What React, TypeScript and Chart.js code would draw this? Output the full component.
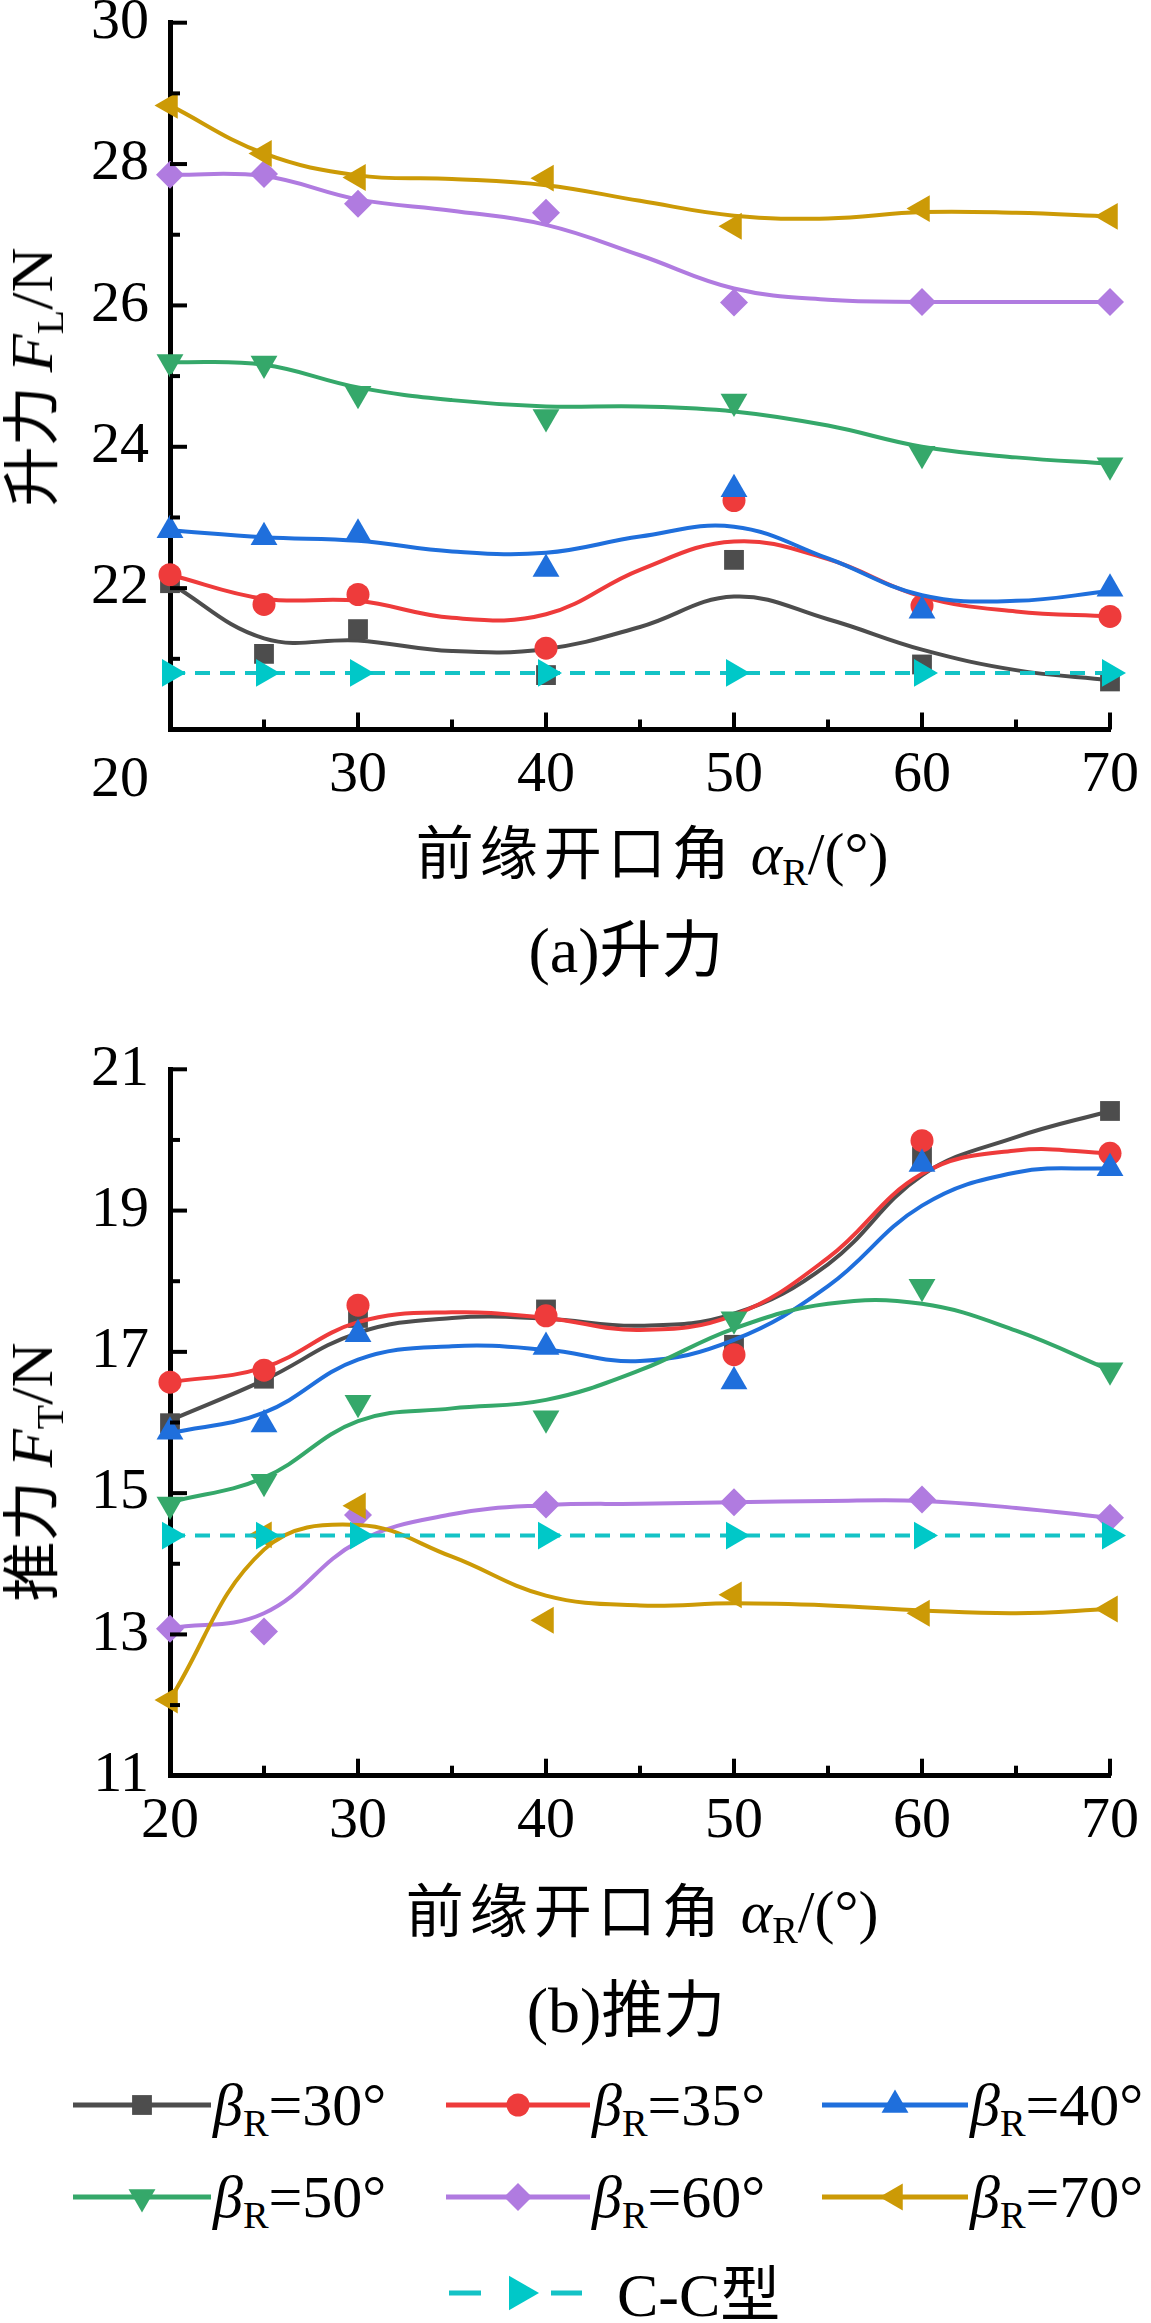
import { useEffect, useRef } from "react";
import { Chart, registerables } from "chart.js";

Chart.register(...registerables);

// leading-edge opening angle alpha_R (deg) where the runs were made
const ALPHA = [20, 25, 30, 40, 50, 60, 70];
const ALPHA_FIT = [20, 25, 30, 35, 40, 45, 50, 55, 60, 65, 70];

// (a) lift F_L (N)
const LIFT_B30 = [22.07, 21.07, 21.42, 20.77, 22.4, 20.92, 20.68];
const LIFT_B35 = [22.19, 21.77, 21.91, 21.15, 23.24, 21.75, 21.6];
const LIFT_B40 = [22.82, 22.72, 22.77, 22.27, 23.4, 21.68, 21.99];
const LIFT_B50 = [25.2, 25.18, 24.75, 24.42, 24.64, 23.9, 23.74];
const LIFT_B60 = [27.85, 27.86, 27.44, 27.31, 26.04, 26.05, 26.05];
const LIFT_B70 = [28.83, 28.15, 27.81, 27.8, 27.12, 27.37, 27.26];
const LIFT_CC = [20.8, 20.8, 20.8, 20.8, 20.8, 20.8, 20.8];

const LIFT_FIT_B30 = [22.07, 21.29, 21.26, 21.11, 21.14, 21.45, 21.88, 21.56, 21.13, 20.84, 20.7];
const LIFT_FIT_B35 = [22.19, 21.85, 21.82, 21.58, 21.63, 22.26, 22.66, 22.41, 21.88, 21.67, 21.6];
const LIFT_FIT_B40 = [22.82, 22.72, 22.67, 22.52, 22.5, 22.73, 22.87, 22.42, 21.9, 21.82, 21.96];
const LIFT_FIT_B50 = [25.2, 25.16, 24.84, 24.66, 24.57, 24.57, 24.5, 24.3, 24.0, 23.85, 23.76];
const LIFT_FIT_B60 = [27.85, 27.83, 27.5, 27.34, 27.14, 26.71, 26.24, 26.08, 26.05, 26.05, 26.05];
const LIFT_FIT_B70 = [28.83, 28.15, 27.84, 27.79, 27.7, 27.48, 27.27, 27.23, 27.32, 27.31, 27.26];

// (b) thrust F_T (N)
const THRUST_B30 = [15.99, 16.62, 17.48, 17.6, 17.1, 19.76, 20.41];
const THRUST_B35 = [16.57, 16.74, 17.66, 17.51, 16.96, 19.99, 19.81];
const THRUST_B40 = [15.87, 15.97, 17.25, 17.07, 16.58, 19.66, 19.6];
const THRUST_B50 = [14.84, 15.16, 16.28, 16.06, 17.46, 17.92, 16.74];
const THRUST_B60 = [13.08, 13.04, 14.69, 14.84, 14.87, 14.91, 14.65];
const THRUST_B70 = [12.07, 14.41, 14.82, 13.2, 13.56, 13.3, 13.36];
const THRUST_CC = [14.4, 14.4, 14.4, 14.4, 14.4, 14.4, 14.4];

const THRUST_FIT_B30 = [16.03, 16.6, 17.27, 17.48, 17.47, 17.37, 17.54, 18.24, 19.5, 20.04, 20.41];
const THRUST_FIT_B35 = [16.57, 16.78, 17.42, 17.56, 17.48, 17.31, 17.52, 18.33, 19.52, 19.85, 19.81];
const THRUST_FIT_B40 = [15.85, 16.14, 16.89, 17.08, 17.03, 16.87, 17.17, 17.93, 19.07, 19.54, 19.6];
const THRUST_FIT_B50 = [14.87, 15.22, 16.02, 16.2, 16.32, 16.74, 17.33, 17.68, 17.68, 17.3, 16.74];
const THRUST_FIT_B60 = [13.09, 13.3, 14.31, 14.7, 14.83, 14.85, 14.87, 14.89, 14.89, 14.79, 14.65];
const THRUST_FIT_B70 = [12.08, 14.2, 14.55, 14.1, 13.55, 13.41, 13.44, 13.41, 13.34, 13.3, 13.36];

const BETA_LABELS = ["30", "35", "40", "50", "60", "70"];

const SERIF = "'Liberation Serif', Tinos, 'Times New Roman', Times, 'DejaVu Serif', serif";
const CJK = "'Noto Sans CJK SC', 'Noto Sans', sans-serif";
const CC_COLOR = "#14c3c6";

type Look = { color: string; shape: string; rotation: number; radius: number };

const LOOKS: Look[] = [
  { color: "#4d4d4d", shape: "rect", rotation: 0, radius: 14 },
  { color: "#ee3b3b", shape: "circle", rotation: 0, radius: 11.5 },
  { color: "#1f6fdc", shape: "triangle", rotation: 0, radius: 15.5 },
  { color: "#35a86a", shape: "triangle", rotation: 180, radius: 15.5 },
  { color: "#b07be0", shape: "rectRot", rotation: 0, radius: 14 },
  { color: "#cc9a06", shape: "triangle", rotation: 270, radius: 15.5 },
];

// inward major/minor tick marks like the original plotting program
const inwardTicks = {
  id: "inwardTicks",
  afterDraw(chart: any) {
    const { ctx } = chart;
    const xs = chart.scales.x;
    const ys = chart.scales.y;
    ctx.save();
    ctx.strokeStyle = "#000";
    ctx.lineWidth = 4;
    for (let v = xs.min; v <= xs.max + 1e-6; v += 5) {
      const px = xs.getPixelForValue(v);
      const len = Math.round(v - xs.min) % 10 === 0 ? 17 : 10;
      ctx.beginPath();
      ctx.moveTo(px, ys.bottom);
      ctx.lineTo(px, ys.bottom - len);
      ctx.stroke();
    }
    for (let v = ys.min; v <= ys.max + 1e-6; v += 1) {
      const py = ys.getPixelForValue(v);
      const len = Math.round(v - ys.min) % 2 === 0 ? 17 : 10;
      ctx.beginPath();
      ctx.moveTo(xs.left, py);
      ctx.lineTo(xs.left + len, py);
      ctx.stroke();
    }
    ctx.restore();
  },
};

function buildDatasets(marks: number[][], fits: number[][], cc: number[]) {
  const n = LOOKS.length + 1;
  const sets: any[] = [];
  LOOKS.forEach((s, i) => {
    const rank = n - i; // later series are painted over earlier ones
    sets.push({
      data: ALPHA_FIT.map((a, k) => ({ x: a, y: fits[i][k] })),
      borderColor: s.color,
      borderWidth: 4,
      tension: 0.4,
      pointRadius: 0,
      fill: false,
      clip: false,
      order: rank * 2 + 1,
    });
    sets.push({
      data: ALPHA.map((a, k) => ({ x: a, y: marks[i][k] })),
      showLine: false,
      pointStyle: s.shape,
      pointRotation: s.rotation,
      pointRadius: s.radius,
      pointBackgroundColor: s.color,
      pointBorderWidth: 0,
      clip: false,
      order: rank * 2,
    });
  });
  sets.push({
    data: ALPHA.map((a, k) => ({ x: a, y: cc[k] })),
    borderColor: CC_COLOR,
    borderWidth: 4,
    borderDash: [15, 10],
    tension: 0,
    pointStyle: "triangle",
    pointRotation: 90,
    pointRadius: 16,
    pointBackgroundColor: "#00c8c8",
    pointBorderWidth: 0,
    clip: false,
    order: 0,
  });
  return sets;
}

type PanelProps = {
  top: number;
  height: number;
  padTop: number;
  xAxisH: number;
  marks: number[][];
  fits: number[][];
  cc: number[];
  yMin: number;
  yMax: number;
  hideFirst: boolean;
};

function Panel({ top, height, padTop, xAxisH, marks, fits, cc, yMin, yMax, hideFirst }: PanelProps) {
  const chartRef = useRef<HTMLCanvasElement>(null);
  const chartInstance = useRef<Chart | null>(null);

  useEffect(() => {
    if (!chartRef.current) return;
    if (chartInstance.current) chartInstance.current.destroy();

    const font = { family: SERIF, size: 58 };
    const axisBorder = { display: true, color: "#000", width: 5 };
    const noGrid = { display: true, drawOnChartArea: false, drawTicks: false };

    chartInstance.current = new Chart(chartRef.current, {
      type: "line",
      data: { datasets: buildDatasets(marks, fits, cc) },
      plugins: [inwardTicks],
      options: {
        responsive: false,
        animation: false,
        events: [],
        layout: { padding: { top: padTop, right: 41, left: 0, bottom: 0 } },
        plugins: { legend: { display: false }, tooltip: { enabled: false } },
        scales: {
          x: {
            type: "linear",
            min: 20,
            max: 70,
            z: 1,
            grid: noGrid,
            border: axisBorder,
            ticks: {
              stepSize: 10,
              font,
              color: "#000",
              padding: 11,
              maxRotation: 0,
              autoSkip: false,
              callback: (v: any) => (hideFirst && v === 20 ? "" : String(v)),
            },
            afterFit: (s: any) => {
              s.height = xAxisH;
              s.paddingLeft = 0;
              s.paddingRight = 0;
            },
          },
          y: {
            type: "linear",
            min: yMin,
            max: yMax,
            z: 1,
            grid: noGrid,
            border: axisBorder,
            ticks: {
              stepSize: 2,
              font,
              color: "#000",
              padding: 21,
              callback: (v: any) => (hideFirst && v === yMin ? "" : String(v)),
            },
            afterFit: (s: any) => {
              s.width = 170;
              s.paddingTop = 0;
              s.paddingBottom = 0;
            },
          },
        },
      } as any,
    });

    return () => {
      if (chartInstance.current) {
        chartInstance.current.destroy();
        chartInstance.current = null;
      }
    };
  }, []);

  return (
    <canvas
      ref={chartRef}
      width={1151}
      height={height}
      style={{ position: "absolute", left: 0, top, width: 1151, height }}
    />
  );
}

const sub = { fontSize: "0.64em", position: "relative" as const, top: "0.28em" };

function XTitle({ cx, cy }: { cx: number; cy: number }) {
  return (
    <div
      style={{
        position: "absolute",
        left: cx,
        top: cy,
        transform: "translate(-50%, -50%)",
        whiteSpace: "nowrap",
        fontSize: 58,
        lineHeight: 1,
      }}
    >
      <span style={{ fontFamily: CJK, letterSpacing: 6 }}>前缘开口角</span>
      <span style={{ fontFamily: SERIF, fontSize: 60 }}>
        {" "}
        <i>α</i>
        <span style={sub}>R</span>/(°)
      </span>
    </div>
  );
}

function YTitle({ cx, cy, word, letter }: { cx: number; cy: number; word: string; letter: string }) {
  return (
    <div
      style={{
        position: "absolute",
        left: cx,
        top: cy,
        transform: "translate(-50%, -50%) rotate(-90deg) scaleX(1.04)",
        whiteSpace: "nowrap",
        fontSize: 58,
        lineHeight: 1,
      }}
    >
      <span style={{ fontFamily: CJK }}>{word} </span>
      <span style={{ fontFamily: SERIF, fontSize: 60 }}>
        <i>F</i>
        <span style={sub}>{letter}</span>/N
      </span>
    </div>
  );
}

function Caption({ cx, cy, tag, word }: { cx: number; cy: number; tag: string; word: string }) {
  return (
    <div
      style={{
        position: "absolute",
        left: cx,
        top: cy,
        transform: "translate(-50%, -50%)",
        whiteSpace: "nowrap",
        lineHeight: 1,
      }}
    >
      <span style={{ fontFamily: SERIF, fontSize: 64 }}>({tag})</span>
      <span style={{ fontFamily: CJK, fontSize: 62 }}>{word}</span>
    </div>
  );
}

function Marker({ look, cx, cy }: { look: Look; cx: number; cy: number }) {
  const r = look.radius;
  const c = look.color;
  if (look.shape === "rect") {
    const h = r * Math.SQRT1_2;
    return <rect x={cx - h} y={cy - h} width={2 * h} height={2 * h} fill={c} />;
  }
  if (look.shape === "circle") return <circle cx={cx} cy={cy} r={r} fill={c} />;
  if (look.shape === "rectRot") {
    return <polygon points={`${cx},${cy - r} ${cx + r},${cy} ${cx},${cy + r} ${cx - r},${cy}`} fill={c} />;
  }
  const pts = [0, 120, 240]
    .map((d) => {
      const a = ((d + look.rotation) * Math.PI) / 180;
      return `${cx + Math.sin(a) * r},${cy - Math.cos(a) * r}`;
    })
    .join(" ");
  return <polygon points={pts} fill={c} />;
}

const LEGEND_COLS = [
  [73, 211],
  [446, 590],
  [822, 968],
];
const LEGEND_ROWS = [2105, 2197];

function Legend() {
  return (
    <>
      {LOOKS.map((look, i) => {
        const [x0, x1] = LEGEND_COLS[i % 3];
        const y = LEGEND_ROWS[Math.floor(i / 3)];
        const w = x1 - x0;
        return (
          <div key={i} style={{ position: "absolute", left: x0, top: y - 40, height: 80, whiteSpace: "nowrap" }}>
            <svg width={w} height={80} style={{ position: "absolute", left: 0, top: 0 }}>
              <line x1={0} y1={40} x2={w} y2={40} stroke={look.color} strokeWidth={5} />
              <Marker look={look} cx={w / 2} cy={40} />
            </svg>
            <div
              style={{
                position: "absolute",
                left: w + 2,
                top: 40,
                transform: "translateY(-50%)",
                fontFamily: SERIF,
                fontSize: 60,
                lineHeight: 1,
              }}
            >
              <i>β</i>
              <span style={sub}>R</span>={BETA_LABELS[i]}°
            </div>
          </div>
        );
      })}
      <div style={{ position: "absolute", left: 449, top: 2293 - 40, height: 80, whiteSpace: "nowrap" }}>
        <svg width={133} height={80} style={{ position: "absolute", left: 0, top: 0 }}>
          <line x1={0} y1={40} x2={133} y2={40} stroke={CC_COLOR} strokeWidth={5} strokeDasharray="32 70 31" />
          <Marker look={{ color: "#00c8c8", shape: "triangle", rotation: 90, radius: 20 }} cx={70} cy={40} />
        </svg>
        <div
          style={{
            position: "absolute",
            left: 168,
            top: 40,
            transform: "translateY(-50%)",
            lineHeight: 1,
          }}
        >
          <span style={{ fontFamily: SERIF, fontSize: 62 }}>C-C</span>
          <span style={{ fontFamily: CJK, fontSize: 60 }}>型</span>
        </div>
      </div>
    </>
  );
}

export default function App() {
  return (
    <div
      style={{
        position: "absolute",
        left: 0,
        top: 0,
        width: 1151,
        height: 2323,
        overflow: "hidden",
        background: "#fff",
        color: "#000",
      }}
    >
      <Panel
        top={0}
        height={800}
        padTop={22.7}
        xAxisH={70.5}
        marks={[LIFT_B30, LIFT_B35, LIFT_B40, LIFT_B50, LIFT_B60, LIFT_B70]}
        fits={[LIFT_FIT_B30, LIFT_FIT_B35, LIFT_FIT_B40, LIFT_FIT_B50, LIFT_FIT_B60, LIFT_FIT_B70]}
        cc={LIFT_CC}
        yMin={20}
        yMax={30}
        hideFirst={true}
      />
      {/* the lone "20" sits below the corner in the original */}
      <div
        style={{
          position: "absolute",
          left: 120,
          top: 777,
          transform: "translate(-50%, -50%)",
          fontFamily: SERIF,
          fontSize: 58,
          lineHeight: 1,
        }}
      >
        20
      </div>
      <YTitle cx={30} cy={377} word="升力" letter="L" />
      <XTitle cx={652} cy={852} />
      <Caption cx={626} cy={948} tag="a" word="升力" />

      <Panel
        top={1000}
        height={880}
        padTop={69.3}
        xAxisH={104.3}
        marks={[THRUST_B30, THRUST_B35, THRUST_B40, THRUST_B50, THRUST_B60, THRUST_B70]}
        fits={[THRUST_FIT_B30, THRUST_FIT_B35, THRUST_FIT_B40, THRUST_FIT_B50, THRUST_FIT_B60, THRUST_FIT_B70]}
        cc={THRUST_CC}
        yMin={11}
        yMax={21}
        hideFirst={false}
      />
      <YTitle cx={30} cy={1472} word="推力" letter="T" />
      <XTitle cx={642} cy={1910} />
      <Caption cx={626} cy={2008} tag="b" word="推力" />

      <Legend />
    </div>
  );
}
